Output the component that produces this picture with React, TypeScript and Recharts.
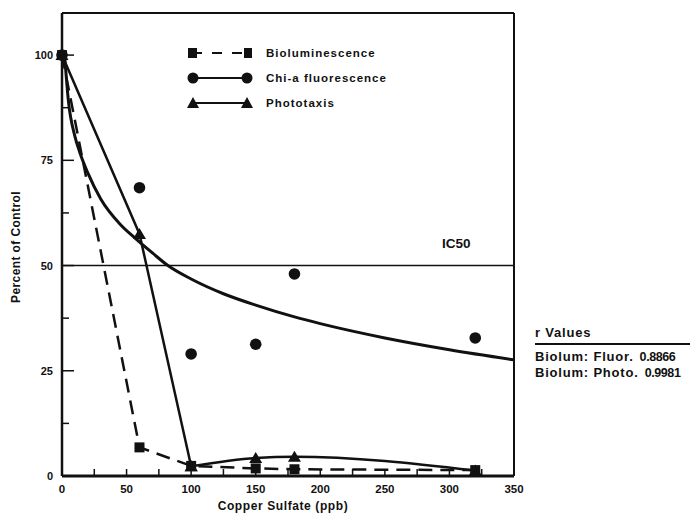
import React from 'react';
import {
  ComposedChart,
  Line,
  Scatter,
  XAxis,
  YAxis,
  ReferenceLine,
} from 'recharts';

// copper sulfate doses (ppb) where measurements were taken
const doses = [0, 60, 100, 150, 180, 320];
const biolum = [100, 6.8, 2.4, 1.8, 1.6, 1.4];
const chlA = [100, 68.5, 29, 31.3, 48, 32.8];
const photo = [100, 57.5, 2.3, 4.3, 4.6, 1.3];

// fitted curve for chl-a fluorescence
const fitDoses = [2, 5, 10, 14, 20, 30, 45, 57, 70, 82, 100, 125, 150, 180, 200, 250, 300, 350];
const fitChlA = [100, 89, 80.7, 76.7, 72, 65.8, 59.8, 56.4, 53, 50, 46.8, 43.3, 40.6, 37.8, 36.2, 32.8, 30, 27.6];

const xTicks = [0, 25, 50, 75, 100, 125, 150, 175, 200, 225, 250, 275, 300, 325, 350];
const yTicks = [0, 12.5, 25, 37.5, 50, 62.5, 75, 87.5, 100];

const rValues = [
  { label: 'Biolum: Fluor.', value: '0.8866' },
  { label: 'Biolum: Photo.', value: '0.9981' },
];

const INK = '#111';
const FONT = '"Liberation Sans", Arial, sans-serif';

const toPoints = (xs: number[], ys: number[]) => xs.map((x, i) => ({ x, y: ys[i] }));

const biolumData = toPoints(doses, biolum);
const chlData = toPoints(doses, chlA);
const photoData = toPoints(doses, photo);
// phototaxis: straight drop down to 100 ppb, then a smooth low hump
const photoDrop = photoData.filter((p) => p.x <= 100);
const photoTail = photoData.filter((p) => p.x >= 100);
const fitData = toPoints(fitDoses, fitChlA);

function SquareDot(props: any) {
  const { cx, cy, index } = props;
  if (cx == null || cy == null) return <g key={index} />;
  return <rect key={index} x={cx - 5} y={cy - 5} width={10} height={10} fill={INK} />;
}

function TriangleDot(props: any) {
  const { cx, cy, index } = props;
  if (cx == null || cy == null) return <g key={index} />;
  return <polygon key={index} points={`${cx},${cy - 6} ${cx + 6.5},${cy + 5} ${cx - 6.5},${cy + 5}`} fill={INK} />;
}

function CircleShape(props: any) {
  const { cx, cy } = props;
  return <circle cx={cx} cy={cy} r={5.8} fill={INK} />;
}

function YTick(props: any) {
  const { x, y, payload } = props;
  const v = payload.value;
  const major = v % 25 === 0;
  return (
    <g>
      <line x1={x} x2={x + (major ? 12 : 7)} y1={y} y2={y} stroke={INK} strokeWidth={1.5} />
      {major && (
        <text x={x - 9} y={y} dy={4} textAnchor="end" fontFamily={FONT} fontWeight="bold" fontSize={11} fill={INK}>
          {v}
        </text>
      )}
    </g>
  );
}

function XTick(props: any) {
  const { x, y, payload } = props;
  const v = payload.value;
  const major = v % 50 === 0;
  return (
    <g>
      <line x1={x} x2={x} y1={y} y2={y - 7} stroke={INK} strokeWidth={1.5} />
      {major && (
        <text x={x} y={y} dy={17} textAnchor="middle" fontFamily={FONT} fontWeight="bold" fontSize={11.5} fill={INK}>
          {v}
        </text>
      )}
    </g>
  );
}

function LegendRow({ kind, label, top }: { kind: 'square' | 'circle' | 'triangle'; label: string; top: number }) {
  return (
    <div style={{ position: 'absolute', left: 186, top: top - 8, height: 16, display: 'flex', alignItems: 'center' }}>
      <svg width={68} height={16}>
        <line
          x1={6}
          x2={62}
          y1={8}
          y2={8}
          stroke={INK}
          strokeWidth={2}
          strokeDasharray={kind === 'square' ? '10 10' : undefined}
        />
        {kind === 'square' && (
          <>
            <rect x={2} y={3} width={9} height={10} fill={INK} />
            <rect x={58} y={3} width={8} height={10} fill={INK} />
          </>
        )}
        {kind === 'circle' && (
          <>
            <circle cx={7} cy={8} r={5.5} fill={INK} />
            <circle cx={61} cy={8} r={5.5} fill={INK} />
          </>
        )}
        {kind === 'triangle' && (
          <>
            <polygon points="7,2 13,13 1,13" fill={INK} />
            <polygon points="61,2 67,13 55,13" fill={INK} />
          </>
        )}
      </svg>
      <span style={{ marginLeft: 12, fontFamily: FONT, fontWeight: 'bold', fontSize: 11.5, letterSpacing: 1, color: INK }}>
        {label}
      </span>
    </div>
  );
}

export default function App() {
  return (
    <div style={{ position: 'absolute', left: 0, top: 0, width: 694, height: 515, background: '#fff' }}>
      <ComposedChart width={694} height={515} margin={{ top: 13, right: 180, bottom: 0, left: 0 }}>
        <XAxis
          dataKey="x"
          type="number"
          domain={[0, 350]}
          ticks={xTicks}
          interval={0}
          height={39}
          tickSize={0}
          tickMargin={0}
          tick={<XTick />}
          axisLine={{ stroke: INK, strokeWidth: 3 }}
          label={{
            content: () => (
              <text
                x={283}
                y={510}
                textAnchor="middle"
                fontFamily={FONT}
                fontWeight="bold"
                fontSize={12}
                letterSpacing={0.6}
                fill={INK}
              >
                Copper Sulfate (ppb)
              </text>
            ),
          }}
        />
        <YAxis
          dataKey="y"
          type="number"
          domain={[0, 110]}
          ticks={yTicks}
          interval={0}
          width={62}
          tickSize={0}
          tickMargin={0}
          tick={<YTick />}
          axisLine={{ stroke: INK, strokeWidth: 2.5 }}
          label={{
            content: () => (
              <text
                x={20}
                y={247}
                transform="rotate(-90 20 247)"
                textAnchor="middle"
                fontFamily={FONT}
                fontWeight="bold"
                fontSize={12}
                letterSpacing={0.4}
                fill={INK}
              >
                Percent of Control
              </text>
            ),
          }}
        />
        <ReferenceLine y={110} stroke={INK} strokeWidth={2} />
        <ReferenceLine x={350} stroke={INK} strokeWidth={2} />
        <ReferenceLine
          y={50}
          stroke={INK}
          strokeWidth={1.5}
          label={{
            content: (p: any) => {
              const vb = p.viewBox || {};
              return (
                <text x={vb.x + vb.width - 72} y={vb.y - 18} fontFamily={FONT} fontWeight="bold" fontSize={13.5} fill={INK}>
                  IC50
                </text>
              );
            },
          }}
        />
        <Line
          data={fitData}
          dataKey="y"
          type="monotone"
          stroke={INK}
          strokeWidth={3}
          dot={false}
          isAnimationActive={false}
        />
        <Line
          data={photoDrop}
          dataKey="y"
          type="linear"
          stroke={INK}
          strokeWidth={2.5}
          dot={<TriangleDot />}
          isAnimationActive={false}
        />
        <Line
          data={photoTail}
          dataKey="y"
          type="monotone"
          stroke={INK}
          strokeWidth={2.5}
          dot={<TriangleDot />}
          isAnimationActive={false}
        />
        <Line
          data={biolumData}
          dataKey="y"
          type="linear"
          stroke={INK}
          strokeWidth={2.5}
          strokeDasharray="14 8"
          dot={<SquareDot />}
          isAnimationActive={false}
        />
        <Scatter data={chlData} dataKey="y" shape={<CircleShape />} isAnimationActive={false} />
      </ComposedChart>

      <LegendRow kind="square" label="Bioluminescence" top={53} />
      <LegendRow kind="circle" label="Chi-a fluorescence" top={78} />
      <LegendRow kind="triangle" label="Phototaxis" top={103} />

      <div
        style={{
          position: 'absolute',
          left: 535,
          top: 325,
          width: 155,
          fontFamily: FONT,
          fontWeight: 'bold',
          fontSize: 13,
          letterSpacing: 0.8,
          color: INK,
        }}
      >
        <div style={{ borderBottom: `2px solid ${INK}`, paddingBottom: 3, lineHeight: '15px' }}>r Values</div>
        <div style={{ marginTop: 4, lineHeight: '16px' }}>
          {rValues.map((r) => (
            <div key={r.label} style={{ whiteSpace: 'nowrap' }}>
              {r.label}
              <span style={{ marginLeft: 6, fontSize: 12.5, letterSpacing: -0.4 }}>{r.value}</span>
            </div>
          ))}
        </div>
      </div>
    </div>
  );
}
